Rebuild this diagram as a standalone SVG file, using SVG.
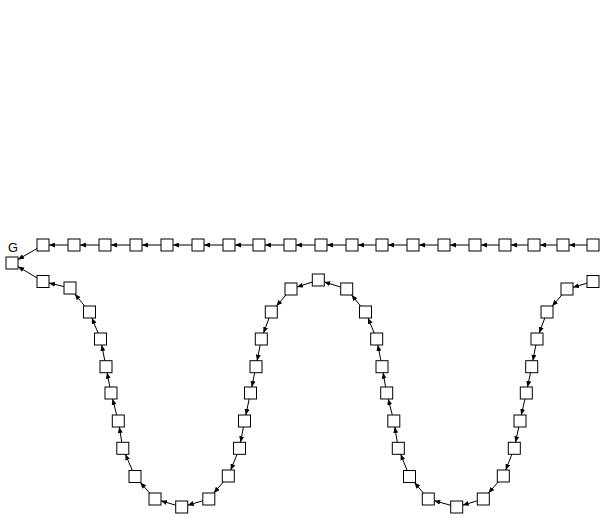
<svg xmlns="http://www.w3.org/2000/svg" width="605" height="529" viewBox="0 0 605 529">
<style>
.n rect{fill:#fff;stroke:#000;stroke-width:1}
#edges line{stroke:#000;stroke-width:1;fill:none;marker-end:url(#ah)}
.lbl{font-family:"Liberation Sans",Arial,sans-serif;font-size:12.8px;fill:#000}
</style>
<defs>
<marker id="ah" viewBox="0 0 6 5" refX="6" refY="2.5" markerWidth="6" markerHeight="5" markerUnits="userSpaceOnUse" orient="auto"><path d="M0,0L6,2.5L0,5z" fill="#000"/></marker>
</defs>
<rect width="605" height="529" fill="#fff"/>
<g id="edges">
<line x1="587" y1="245" x2="569" y2="245"/>
<line x1="557" y1="245" x2="540" y2="245"/>
<line x1="528" y1="245" x2="511" y2="245"/>
<line x1="499" y1="245" x2="481" y2="245"/>
<line x1="469" y1="245" x2="450" y2="245"/>
<line x1="438" y1="245" x2="419" y2="245"/>
<line x1="407" y1="245" x2="388" y2="245"/>
<line x1="376" y1="245" x2="358" y2="245"/>
<line x1="346" y1="245" x2="327" y2="245"/>
<line x1="315" y1="245" x2="296" y2="245"/>
<line x1="284" y1="245" x2="265" y2="245"/>
<line x1="253" y1="245" x2="235" y2="245"/>
<line x1="223" y1="245" x2="204" y2="245"/>
<line x1="192" y1="245" x2="173" y2="245"/>
<line x1="161" y1="245" x2="142" y2="245"/>
<line x1="130" y1="245" x2="111" y2="245"/>
<line x1="99" y1="245" x2="80" y2="245"/>
<line x1="68" y1="245" x2="49" y2="245"/>
<line x1="37" y1="248.5" x2="18" y2="259.5"/>
<line x1="587" y1="283.2" x2="573" y2="287.3"/>
<line x1="561.8" y1="295" x2="552.2" y2="306"/>
<line x1="544.8" y1="318" x2="539.2" y2="333"/>
<line x1="535.9" y1="345" x2="532.8" y2="360.7"/>
<line x1="530.5" y1="372.7" x2="527.5" y2="387"/>
<line x1="525" y1="399" x2="521.3" y2="415"/>
<line x1="518.7" y1="427" x2="515.6" y2="442.3"/>
<line x1="511.9" y1="454.3" x2="505.7" y2="470"/>
<line x1="498.1" y1="482" x2="488.5" y2="493"/>
<line x1="477.3" y1="500.8" x2="462.7" y2="505.2"/>
<line x1="450.7" y1="505.3" x2="434.3" y2="500.7"/>
<line x1="423.3" y1="493" x2="414.5" y2="482.5"/>
<line x1="407.1" y1="470.5" x2="400.7" y2="454.3"/>
<line x1="397.3" y1="442.3" x2="394.8" y2="427"/>
<line x1="392.3" y1="415" x2="388.2" y2="399"/>
<line x1="385.6" y1="387" x2="383.1" y2="372.7"/>
<line x1="380.9" y1="360.7" x2="377.8" y2="345"/>
<line x1="374.2" y1="333" x2="368" y2="318"/>
<line x1="360.6" y1="306" x2="351.6" y2="295"/>
<line x1="340.7" y1="287.1" x2="324.3" y2="281.9"/>
<line x1="312.3" y1="282" x2="297" y2="287"/>
<line x1="285.9" y1="295" x2="276.4" y2="306"/>
<line x1="269.1" y1="318" x2="263.5" y2="333"/>
<line x1="260.2" y1="345" x2="257.1" y2="360.7"/>
<line x1="254.7" y1="372.7" x2="251.8" y2="387"/>
<line x1="249.2" y1="399" x2="245.8" y2="415"/>
<line x1="243.4" y1="427" x2="240.6" y2="442.3"/>
<line x1="237.1" y1="454.3" x2="230.7" y2="470"/>
<line x1="223.2" y1="482" x2="213.9" y2="493"/>
<line x1="202.8" y1="500.8" x2="187.7" y2="505.2"/>
<line x1="175.7" y1="505.2" x2="161" y2="500.8"/>
<line x1="149.7" y1="493" x2="140.3" y2="482.5"/>
<line x1="132.4" y1="470.5" x2="125.4" y2="454.3"/>
<line x1="121.8" y1="442.3" x2="119.3" y2="427"/>
<line x1="116.7" y1="415" x2="112.6" y2="399"/>
<line x1="109.9" y1="387" x2="107.1" y2="372.7"/>
<line x1="104.8" y1="360.7" x2="101.7" y2="345"/>
<line x1="98.1" y1="333" x2="91.9" y2="318"/>
<line x1="84.6" y1="306" x2="74.9" y2="294"/>
<line x1="64" y1="286.6" x2="49" y2="282.9"/>
<line x1="37" y1="277.9" x2="18" y2="266.6"/>
</g>
<g id="G" class="n"><rect x="6" y="257" width="12" height="12"/><text class="lbl" x="13" y="252.2" text-anchor="middle">G</text></g>
<g id="t1" class="n"><rect x="587" y="239" width="12" height="12"/></g>
<g id="t2" class="n"><rect x="557" y="239" width="12" height="12"/></g>
<g id="t3" class="n"><rect x="528" y="239" width="12" height="12"/></g>
<g id="t4" class="n"><rect x="499" y="239" width="12" height="12"/></g>
<g id="t5" class="n"><rect x="469" y="239" width="12" height="12"/></g>
<g id="t6" class="n"><rect x="438" y="239" width="12" height="12"/></g>
<g id="t7" class="n"><rect x="407" y="239" width="12" height="12"/></g>
<g id="t8" class="n"><rect x="376" y="239" width="12" height="12"/></g>
<g id="t9" class="n"><rect x="346" y="239" width="12" height="12"/></g>
<g id="t10" class="n"><rect x="315" y="239" width="12" height="12"/></g>
<g id="t11" class="n"><rect x="284" y="239" width="12" height="12"/></g>
<g id="t12" class="n"><rect x="253" y="239" width="12" height="12"/></g>
<g id="t13" class="n"><rect x="223" y="239" width="12" height="12"/></g>
<g id="t14" class="n"><rect x="192" y="239" width="12" height="12"/></g>
<g id="t15" class="n"><rect x="161" y="239" width="12" height="12"/></g>
<g id="t16" class="n"><rect x="130" y="239" width="12" height="12"/></g>
<g id="t17" class="n"><rect x="99" y="239" width="12" height="12"/></g>
<g id="t18" class="n"><rect x="68" y="239" width="12" height="12"/></g>
<g id="t19" class="n"><rect x="37" y="239" width="12" height="12"/></g>
<g id="w1" class="n"><rect x="587" y="275.5" width="12" height="12"/></g>
<g id="w2" class="n"><rect x="561" y="283" width="12" height="12"/></g>
<g id="w3" class="n"><rect x="541" y="306" width="12" height="12"/></g>
<g id="w4" class="n"><rect x="531" y="333" width="12" height="12"/></g>
<g id="w5" class="n"><rect x="525.7" y="360.7" width="12" height="12"/></g>
<g id="w6" class="n"><rect x="520.3" y="387" width="12" height="12"/></g>
<g id="w7" class="n"><rect x="514" y="415" width="12" height="12"/></g>
<g id="w8" class="n"><rect x="508.3" y="442.3" width="12" height="12"/></g>
<g id="w9" class="n"><rect x="497.3" y="470" width="12" height="12"/></g>
<g id="w10" class="n"><rect x="477.3" y="493" width="12" height="12"/></g>
<g id="w11" class="n"><rect x="450.7" y="501" width="12" height="12"/></g>
<g id="w12" class="n"><rect x="422.3" y="493" width="12" height="12"/></g>
<g id="w13" class="n"><rect x="403.5" y="470.5" width="12" height="12"/></g>
<g id="w14" class="n"><rect x="392.3" y="442.3" width="12" height="12"/></g>
<g id="w15" class="n"><rect x="387.8" y="415" width="12" height="12"/></g>
<g id="w16" class="n"><rect x="380.7" y="387" width="12" height="12"/></g>
<g id="w17" class="n"><rect x="376" y="360.7" width="12" height="12"/></g>
<g id="w18" class="n"><rect x="370.7" y="333" width="12" height="12"/></g>
<g id="w19" class="n"><rect x="359.5" y="306" width="12" height="12"/></g>
<g id="w20" class="n"><rect x="340.7" y="283" width="12" height="12"/></g>
<g id="w21" class="n"><rect x="312.3" y="274" width="12" height="12"/></g>
<g id="w22" class="n"><rect x="285" y="283" width="12" height="12"/></g>
<g id="w23" class="n"><rect x="265.3" y="306" width="12" height="12"/></g>
<g id="w24" class="n"><rect x="255.3" y="333" width="12" height="12"/></g>
<g id="w25" class="n"><rect x="250" y="360.7" width="12" height="12"/></g>
<g id="w26" class="n"><rect x="244.5" y="387" width="12" height="12"/></g>
<g id="w27" class="n"><rect x="238.5" y="415" width="12" height="12"/></g>
<g id="w28" class="n"><rect x="233.5" y="442.3" width="12" height="12"/></g>
<g id="w29" class="n"><rect x="222.3" y="470" width="12" height="12"/></g>
<g id="w30" class="n"><rect x="202.8" y="493" width="12" height="12"/></g>
<g id="w31" class="n"><rect x="175.7" y="501" width="12" height="12"/></g>
<g id="w32" class="n"><rect x="149" y="493" width="12" height="12"/></g>
<g id="w33" class="n"><rect x="129" y="470.5" width="12" height="12"/></g>
<g id="w34" class="n"><rect x="116.8" y="442.3" width="12" height="12"/></g>
<g id="w35" class="n"><rect x="112.3" y="415" width="12" height="12"/></g>
<g id="w36" class="n"><rect x="105" y="387" width="12" height="12"/></g>
<g id="w37" class="n"><rect x="100" y="360.7" width="12" height="12"/></g>
<g id="w38" class="n"><rect x="94.5" y="333" width="12" height="12"/></g>
<g id="w39" class="n"><rect x="83.5" y="306" width="12" height="12"/></g>
<g id="w40" class="n"><rect x="64" y="282" width="12" height="12"/></g>
<g id="w41" class="n"><rect x="37" y="275.5" width="12" height="12"/></g>
</svg>
